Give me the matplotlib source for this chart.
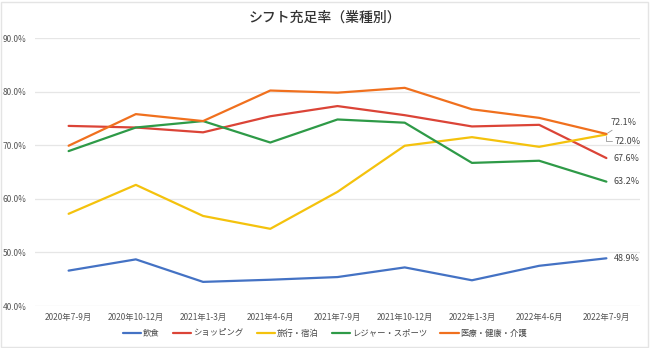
import matplotlib
matplotlib.use("Agg")
import matplotlib.pyplot as plt
from matplotlib.patches import Rectangle

plt.rcParams["font.family"] = ["Noto Sans CJK JP", "DejaVu Sans"]

periods = ["2020年7-9月", "2020年10-12月", "2021年1-3月", "2021年4-6月",
           "2021年7-9月", "2021年10-12月", "2022年1-3月", "2022年4-6月",
           "2022年7-9月"]

food = [46.6, 48.7, 44.5, 44.9, 45.4, 47.2, 44.8, 47.5, 48.9]
shopping = [73.6, 73.3, 72.4, 75.4, 77.3, 75.6, 73.5, 73.8, 67.6]
travel = [57.2, 62.6, 56.8, 54.4, 61.3, 69.9, 71.5, 69.7, 72.0]
leisure = [68.9, 73.3, 74.5, 70.5, 74.8, 74.2, 66.7, 67.1, 63.2]
medical = [69.9, 75.8, 74.5, 80.2, 79.8, 80.7, 76.7, 75.1, 72.1]

series = [
    ("飲食", food, "#4472c4"),
    ("ショッピング", shopping, "#db4437"),
    ("旅行・宿泊", travel, "#f4c20d"),
    ("レジャー・スポーツ", leisure, "#2e9a47"),
    ("医療・健康・介護", medical, "#f0701e"),
]

fig = plt.figure(figsize=(6.5, 3.48), dpi=100)
fig.patch.set_facecolor("white")
fig.add_artist(Rectangle((0.002, 0.003), 0.995, 0.992, transform=fig.transFigure,
                         fill=False, edgecolor="#e4e4e4", lw=1.0))

ax = fig.add_axes([35 / 650, 1 - 306 / 348, 605 / 650, 268 / 348])
x = range(len(periods))
for name, vals, col in series:
    ax.plot(x, vals, color=col, lw=1.6, label=name, solid_capstyle="round")

ax.set_xlim(-0.5, len(periods) - 0.5)
ax.set_ylim(40, 90)
ax.set_yticks([40, 50, 60, 70, 80, 90])
ax.set_yticklabels([f"{v:.1f}%" for v in ax.get_yticks()])
ax.set_xticks(list(x))
ax.set_xticklabels(periods)
ax.tick_params(axis="both", length=0, labelsize=6, colors="#555555")
ax.tick_params(axis="x", pad=5)
ax.tick_params(axis="y", pad=6)
ax.grid(axis="y", color="#e6e6e6", lw=0.9)
ax.set_axisbelow(True)
for s in ax.spines.values():
    s.set_visible(False)

# value labels on the last period
last = len(periods) - 1
lab = dict(color="#444444", fontsize=6.5, va="center", ha="left",
           textcoords="offset pixels")
ax.annotate(f"{medical[-1]:.1f}%", (last, medical[-1]), xytext=(4, 11),
            arrowprops=dict(arrowstyle="-", color="#999999", lw=0.6,
                            shrinkA=0, shrinkB=1), **lab)
ax.annotate(f"{travel[-1]:.1f}%", (last, travel[-1]), xytext=(8, -7),
            arrowprops=dict(arrowstyle="-", color="#999999", lw=0.6,
                            shrinkA=0, shrinkB=1,
                            connectionstyle="angle,angleA=0,angleB=90"), **lab)
for vals in (shopping, leisure, food):
    ax.annotate(f"{vals[-1]:.1f}%", (last, vals[-1]), xytext=(7, 0), **lab)

fig.text(0.5, 1 - 18 / 348, "シフト充足率（業種別）", ha="center", va="center",
         fontsize=10, color="#333333", fontweight="medium")

fig.legend(*ax.get_legend_handles_labels(), loc="center",
           bbox_to_anchor=(0.5, 1 - 333 / 348), ncol=5, frameon=False,
           fontsize=6, handlelength=2.2, handletextpad=0.2, columnspacing=1.6,
           labelcolor="#444444")

fig.savefig("out.png", dpi=100)
